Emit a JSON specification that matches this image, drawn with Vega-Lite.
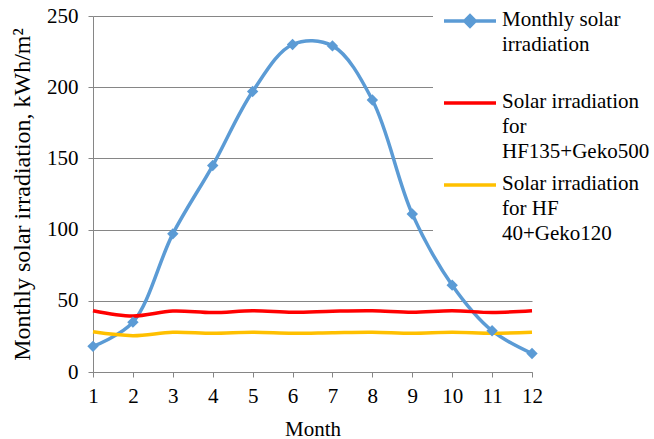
{
  "$schema": "https://vega.github.io/schema/vega-lite/v6.json",
  "autosize": {"type": "none"},
  "padding": {"left": 93, "top": 16, "right": 122, "bottom": 67},
  "width": 439,
  "height": 356,
  "background": "white",
  "config": {
    "font": "Liberation Serif, Times New Roman, serif",
    "view": {"stroke": null},
    "axis": {
      "labelFont": "Liberation Serif, Times New Roman, serif",
      "titleFont": "Liberation Serif, Times New Roman, serif",
      "labelFontSize": 21,
      "titleFontSize": 21,
      "titleFontWeight": "normal",
      "labelColor": "#000000",
      "titleColor": "#000000",
      "domainColor": "#868686",
      "tickColor": "#868686",
      "gridColor": "#868686",
      "domainWidth": 1,
      "tickWidth": 1,
      "gridWidth": 1,
      "tickSize": 5
    }
  },
  "data": {
    "values": [
      {"month": 1, "series": "Monthly solar irradiation", "value": 18},
      {"month": 2, "series": "Monthly solar irradiation", "value": 35},
      {"month": 3, "series": "Monthly solar irradiation", "value": 97},
      {"month": 4, "series": "Monthly solar irradiation", "value": 145},
      {"month": 5, "series": "Monthly solar irradiation", "value": 197},
      {"month": 6, "series": "Monthly solar irradiation", "value": 230},
      {"month": 7, "series": "Monthly solar irradiation", "value": 229},
      {"month": 8, "series": "Monthly solar irradiation", "value": 191},
      {"month": 9, "series": "Monthly solar irradiation", "value": 111},
      {"month": 10, "series": "Monthly solar irradiation", "value": 61},
      {"month": 11, "series": "Monthly solar irradiation", "value": 29},
      {"month": 12, "series": "Monthly solar irradiation", "value": 13},
      {"month": 1, "series": "Solar irradiation for HF135+Geko500", "value": 43},
      {"month": 2, "series": "Solar irradiation for HF135+Geko500", "value": 39.3},
      {"month": 3, "series": "Solar irradiation for HF135+Geko500", "value": 42.8},
      {"month": 4, "series": "Solar irradiation for HF135+Geko500", "value": 41.7},
      {"month": 5, "series": "Solar irradiation for HF135+Geko500", "value": 43},
      {"month": 6, "series": "Solar irradiation for HF135+Geko500", "value": 42},
      {"month": 7, "series": "Solar irradiation for HF135+Geko500", "value": 42.7},
      {"month": 8, "series": "Solar irradiation for HF135+Geko500", "value": 43},
      {"month": 9, "series": "Solar irradiation for HF135+Geko500", "value": 42},
      {"month": 10, "series": "Solar irradiation for HF135+Geko500", "value": 43},
      {"month": 11, "series": "Solar irradiation for HF135+Geko500", "value": 41.8},
      {"month": 12, "series": "Solar irradiation for HF135+Geko500", "value": 43},
      {"month": 1, "series": "Solar irradiation for HF 40+Geko120", "value": 28.2},
      {"month": 2, "series": "Solar irradiation for HF 40+Geko120", "value": 25.5},
      {"month": 3, "series": "Solar irradiation for HF 40+Geko120", "value": 27.9},
      {"month": 4, "series": "Solar irradiation for HF 40+Geko120", "value": 27.2},
      {"month": 5, "series": "Solar irradiation for HF 40+Geko120", "value": 27.9},
      {"month": 6, "series": "Solar irradiation for HF 40+Geko120", "value": 27.2},
      {"month": 7, "series": "Solar irradiation for HF 40+Geko120", "value": 27.6},
      {"month": 8, "series": "Solar irradiation for HF 40+Geko120", "value": 27.9},
      {"month": 9, "series": "Solar irradiation for HF 40+Geko120", "value": 27.2},
      {"month": 10, "series": "Solar irradiation for HF 40+Geko120", "value": 27.9},
      {"month": 11, "series": "Solar irradiation for HF 40+Geko120", "value": 27.2},
      {"month": 12, "series": "Solar irradiation for HF 40+Geko120", "value": 27.9}
    ]
  },
  "encoding": {
    "x": {
      "field": "month", "type": "quantitative",
      "scale": {"domain": [1, 12], "nice": false, "zero": false},
      "axis": {"values": [1,2,3,4,5,6,7,8,9,10,11,12], "format": "d", "grid": false, "title": "Month", "labelPadding": 8, "titlePadding": 12, "labelFlush": false}
    },
    "y": {
      "field": "value", "type": "quantitative",
      "scale": {"domain": [0, 250], "nice": false},
      "axis": {"values": [0,50,100,150,200,250], "grid": true, "title": "Monthly solar irradiation, kWh/m²", "titleFontSize": 24, "labelPadding": 10, "titlePadding": 12}
    }
  },
  "layer": [
    {
      "mark": {"type": "line", "interpolate": "catmull-rom", "strokeWidth": 3.5},
      "encoding": {
        "color": {
          "field": "series", "type": "nominal",
          "scale": {
            "domain": ["Monthly solar irradiation", "Solar irradiation for HF135+Geko500", "Solar irradiation for HF 40+Geko120"],
            "range": ["#5B9BD5", "#FF0000", "#FFC000"]
          },
          "legend": {
            "title": null,
            "orient": "none",
            "legendX": 340,
            "legendY": -16,
            "padding": 6,
            "fillColor": "white",
            "symbolSize": 676,
            "symbolOffset": 16,
            "symbolStrokeWidth": 3.5,
            "labelFont": "Liberation Serif, Times New Roman, serif",
            "labelFontSize": 21,
            "labelColor": "#000000",
            "labelLimit": 300,
            "labelOffset": 17,
            "labelBaseline": "top",
            "rowPadding": 8,
            "labelExpr": "datum.label == 'Monthly solar irradiation' ? ['Monthly solar','irradiation',' '] : datum.label == 'Solar irradiation for HF135+Geko500' ? ['Solar irradiation','for','HF135+Geko500'] : ['Solar irradiation','for HF','40+Geko120']",
            "encode": {
              "labels": {"update": {"lineHeight": {"value": 25}, "dy": {"value": -12}}},
              "symbols": {"update": {
                "shape": {"signal": "datum.value == 'Monthly solar irradiation' ? 'M-2,0H2M-0.4,0L0,-0.4L0.4,0L0,0.4Z' : 'M-2,0H2'"},
                "fill": {"signal": "datum.value == 'Monthly solar irradiation' ? '#5B9BD5' : 'transparent'"}
              }}
            }
          }
        }
      }
    },
    {
      "transform": [{"filter": "datum.series == 'Monthly solar irradiation'"}],
      "mark": {"type": "point", "shape": "diamond", "filled": true, "size": 130, "color": "#5B9BD5", "opacity": 1}
    }
  ]
}
